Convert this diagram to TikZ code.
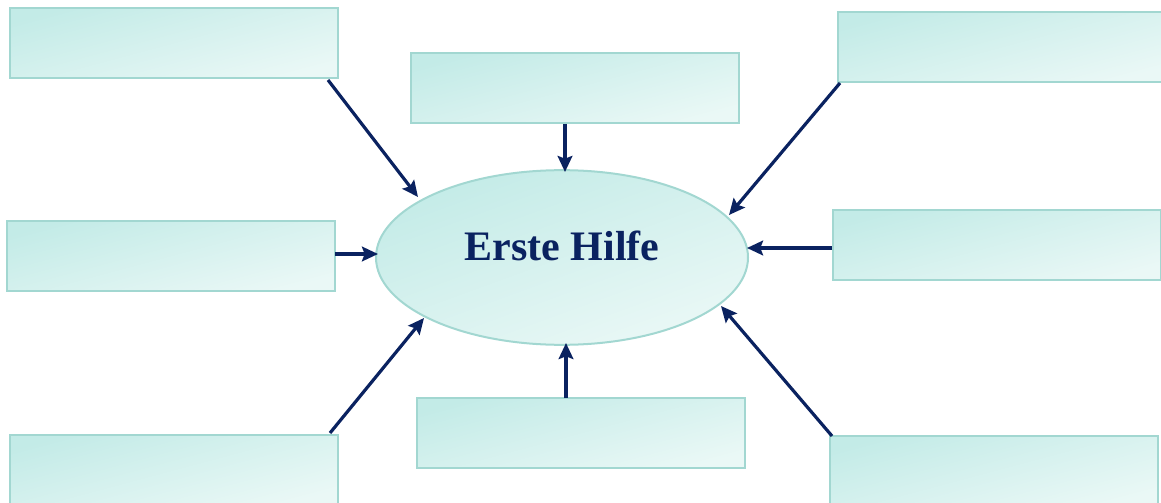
\documentclass[tikz,border=0pt]{standalone}
\usepackage{fontspec}
\setmainfont{Liberation Serif}
\usetikzlibrary{arrows.meta,shapes.geometric}
\definecolor{navy}{HTML}{0A2260}
\definecolor{tealA}{HTML}{C3EBE7}
\definecolor{tealB}{HTML}{EAF8F6}
\definecolor{tealLine}{HTML}{A2D7D1}
\tikzset{
  box/.style={draw=tealLine, line width=1.5pt, rectangle, inner sep=0pt,
    minimum width=246pt, minimum height=52.5pt,
    top color=tealA, bottom color=tealB, shading angle=15},
  hub/.style={draw=tealLine, line width=1.5pt, ellipse, inner sep=0pt,
    minimum width=279pt, minimum height=131pt,
    top color=tealA, bottom color=tealB, shading angle=20,
    text=navy, font=\bfseries\fontsize{31.5}{34}\selectfont},
  conn/.style={draw=navy, line width=2.4pt, -{Stealth[length=12pt,width=11pt,inset=2pt]}}
}
\begin{document}
\begin{tikzpicture}[x=0.75pt,y=-0.75pt]
\useasboundingbox (0,0) rectangle (1161,503);
\clip (0,0) rectangle (1161,503);
\node[hub] (c) at (562,257.5) {\smash{\raisebox{-1.9pt}{Erste Hilfe}}};
\node[box] (tl) at (174,43) {};
\node[box] (tc) at (574.5,88) {};
\node[box] (tr) at (1002,47) {};
\node[box] (ml) at (170.5,256) {};
\node[box] (mr) at (997,245) {};
\node[box] (bl) at (174,470) {};
\node[box] (bc) at (581,433) {};
\node[box] (br) at (993.5,471) {};
\coordinate (tlS) at (328,80);
\coordinate (tlE) at (418,197);
\coordinate (tcS) at (565,124);
\coordinate (tcE) at (565,172);
\coordinate (trS) at (840,83);
\coordinate (trE) at (729,215);
\coordinate (mlS) at (335,254);
\coordinate (mlE) at (378,254);
\coordinate (mrS) at (832,248);
\coordinate (mrE) at (747,248);
\coordinate (blS) at (330,433);
\coordinate (blE) at (424,318);
\coordinate (bcS) at (566,398);
\coordinate (bcE) at (566,343);
\coordinate (brS) at (832,436);
\coordinate (brE) at (721,306);
\draw[conn] (tlS) -- (tlE);
\draw[conn] (tcS) -- (tcE);
\draw[conn] (trS) -- (trE);
\draw[conn] (mlS) -- (mlE);
\draw[conn] (mrS) -- (mrE);
\draw[conn] (blS) -- (blE);
\draw[conn] (bcS) -- (bcE);
\draw[conn] (brS) -- (brE);
\end{tikzpicture}
\end{document}
